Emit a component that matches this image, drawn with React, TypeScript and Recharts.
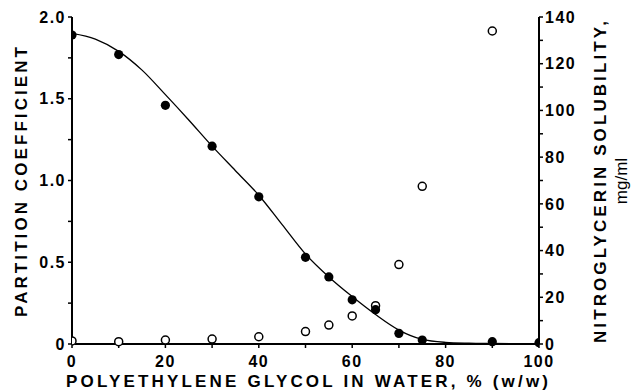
import { ComposedChart, XAxis, YAxis, Line, Scatter } from "recharts";

// PEG concentration, % (w/w)
const pegPct = [0, 10, 20, 30, 40, 50, 55, 60, 65, 70, 75, 90, 100];
// partition coefficient (filled circles)
const partitionCoef = [1.89, 1.77, 1.46, 1.21, 0.9, 0.53, 0.41, 0.27, 0.21, 0.065, 0.024, 0.014, 0.008];

// nitroglycerin solubility, mg/ml (open circles)
const solPct = [0, 10, 20, 30, 40, 50, 55, 60, 65, 70, 75, 90];
const solubility = [1.3, 1.0, 1.7, 2.1, 3.1, 5.3, 8.1, 12, 16.4, 34, 67.5, 134];

// drawn fit through the partition data
const fitPct = [0, 5, 10, 15, 20, 25, 30, 35, 40, 45, 50, 55, 60, 65, 70, 75, 80, 85, 90, 100];
const fitCoef = [1.9, 1.865, 1.79, 1.675, 1.525, 1.37, 1.21, 1.06, 0.91, 0.73, 0.55, 0.41, 0.29, 0.18, 0.085, 0.028, 0.01, 0.005, 0.003, 0];

const xTicks = [0, 10, 20, 30, 40, 50, 60, 70, 80, 90, 100];
const leftTicks = [0, 0.25, 0.5, 0.75, 1, 1.25, 1.5, 1.75, 2];
const rightTicks = [0, 10, 20, 30, 40, 50, 60, 70, 80, 90, 100, 110, 120, 130, 140];

const partitionData = pegPct.map((x, i) => ({ x, y: partitionCoef[i] }));
const solubilityData = solPct.map((x, i) => ({ x, y: solubility[i] }));
const fitData = fitPct.map((x, i) => ({ x, y: fitCoef[i] }));

const tickFont = {
  fill: "#000",
  fontFamily: "Liberation Sans",
  fontWeight: 700,
  fontSize: 16,
  letterSpacing: 1.5,
};

const titleFont = { fontFamily: "Liberation Sans", fontWeight: 700, fontSize: 17, fill: "#000" };

const FilledDot = (props: any) => <circle cx={props.cx} cy={props.cy} r={4.6} fill="#000" />;
const OpenDot = (props: any) => (
  <circle cx={props.cx} cy={props.cy} r={4} fill="#fff" stroke="#000" strokeWidth={1.5} />
);

export default function App() {
  return (
    <div style={{ position: "relative", width: 636, height: 392, background: "#fff" }}>
      <style>{`body{margin:0}`}</style>
      <ComposedChart width={636} height={392} margin={{ top: 17, right: 0, bottom: 0, left: 0 }}>
        <XAxis
          type="number"
          dataKey="x"
          domain={[0, 100]}
          ticks={xTicks}
          tickFormatter={(v: number) => (v % 20 === 0 ? String(v) : "")}
          height={48}
          axisLine={{ stroke: "#000", strokeWidth: 2 }}
          tickLine={{ stroke: "#000", strokeWidth: 1.5 }}
          tickSize={4}
          tick={{ ...tickFont, dy: 6 }}
          allowDataOverflow
        />
        <YAxis
          yAxisId="left"
          type="number"
          domain={[0, 2]}
          ticks={leftTicks}
          tickFormatter={(v: number) => (v === 0 ? "0" : v % 0.5 === 0 ? v.toFixed(1) : "")}
          width={72}
          axisLine={{ stroke: "#000", strokeWidth: 2 }}
          tickLine={{ stroke: "#000", strokeWidth: 1.5 }}
          tickSize={4}
          tick={tickFont}
        />
        <YAxis
          yAxisId="right"
          orientation="right"
          type="number"
          domain={[0, 140]}
          ticks={rightTicks}
          tickFormatter={(v: number) => (v % 20 === 0 ? String(v) : "")}
          width={97}
          axisLine={{ stroke: "#000", strokeWidth: 2 }}
          tickLine={{ stroke: "#000", strokeWidth: 1.5 }}
          tickSize={4}
          tick={tickFont}
        />
        <Line
          yAxisId="left"
          data={fitData}
          dataKey="y"
          type="monotone"
          stroke="#000"
          strokeWidth={1.3}
          dot={false}
          isAnimationActive={false}
        />
        <Scatter yAxisId="right" data={solubilityData} dataKey="y" shape={OpenDot} isAnimationActive={false} />
        <Scatter yAxisId="left" data={partitionData} dataKey="y" shape={FilledDot} isAnimationActive={false} />
      </ComposedChart>
      <svg
        width={636}
        height={392}
        style={{ position: "absolute", left: 0, top: 0, pointerEvents: "none" }}
      >
        <text x={66} y={387} {...titleFont} textLength={482} lengthAdjust="spacing">
          POLYETHYLENE GLYCOL IN WATER, % (w/w)
        </text>
        <text
          transform="translate(27,182) rotate(-90)"
          textAnchor="middle"
          {...titleFont}
          textLength={270}
          lengthAdjust="spacing"
        >
          PARTITION COEFFICIENT
        </text>
        <text
          transform="translate(606,182) rotate(-90)"
          textAnchor="middle"
          {...titleFont}
          textLength={322}
          lengthAdjust="spacing"
        >
          NITROGLYCERIN SOLUBILITY,
        </text>
        <text
          transform="translate(627,181) rotate(-90)"
          textAnchor="middle"
          fontFamily="Liberation Sans"
          fontSize={17}
          fill="#000"
        >
          mg/ml
        </text>
      </svg>
    </div>
  );
}
